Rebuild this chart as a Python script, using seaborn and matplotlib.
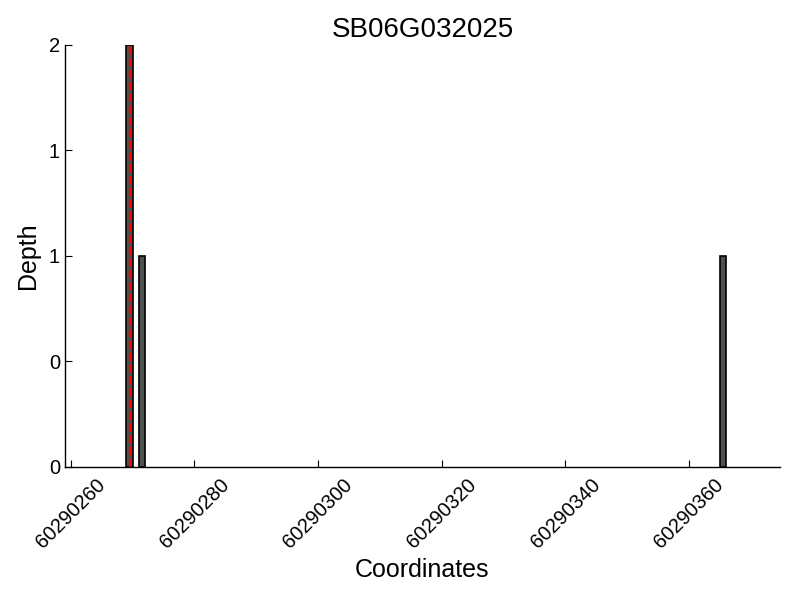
import numpy as np
import pandas as pd
import matplotlib
matplotlib.use("Agg")
import matplotlib.pyplot as plt
import seaborn as sns
from matplotlib.ticker import FuncFormatter

title = "SB06G032025"
positions = [60290269, 60290271, 60290365]
depths = [2, 1, 1]
marker_pos = 60290269.5
xticks = [60290260, 60290280, 60290300, 60290320, 60290340, 60290360]
yticks = [0, 0.5, 1, 1.5, 2]

sns.set_style("ticks")
plt.rcParams['font.family'] = ['Liberation Sans', 'DejaVu Sans']
plt.rcParams.update({"text.color": "black", "axes.labelcolor": "black",
                     "xtick.color": "black", "ytick.color": "black"})

df = pd.DataFrame({"pos": positions, "depth": depths})
fig = plt.figure(figsize=(8, 6), dpi=100)
ax = fig.add_axes([0.081, 0.2217, 0.894, 0.7033])
sns.histplot(data=df, x="pos", weights="depth", binwidth=1,
             binrange=(min(positions), max(positions) + 1), ax=ax,
             color="#505050", edgecolor="black", linewidth=1.2, alpha=1)
for p in ax.patches:
    if p.get_height() == 0:
        p.set_visible(False)
ax.axvline(marker_pos, color="red", linestyle="--", linewidth=1.6)

ax.set_xlim(60290259.03, 60290374.7)
ax.set_ylim(0, 2)
ax.set_xticks(xticks)
ax.set_xticklabels([str(t) for t in xticks], rotation=45, ha="center", fontsize=14.5)
ax.set_yticks(yticks)
ax.yaxis.set_major_formatter(FuncFormatter(lambda v, p: f"{int(v)}"))
ax.tick_params(axis="y", labelsize=14.5)
ax.tick_params(direction="in", length=5, width=0.8)
ax.tick_params(axis="x", pad=6)
sns.despine(ax=ax)
for s in ["left", "bottom"]:
    ax.spines[s].set_linewidth(1.0)
    ax.spines[s].set_color("black")
ax.set_xlabel("Coordinates", fontsize=18, labelpad=4)
ax.set_ylabel("Depth", fontsize=18, labelpad=6)
ax.set_title(title, fontsize=20)
fig.savefig("out.png", dpi=100)
